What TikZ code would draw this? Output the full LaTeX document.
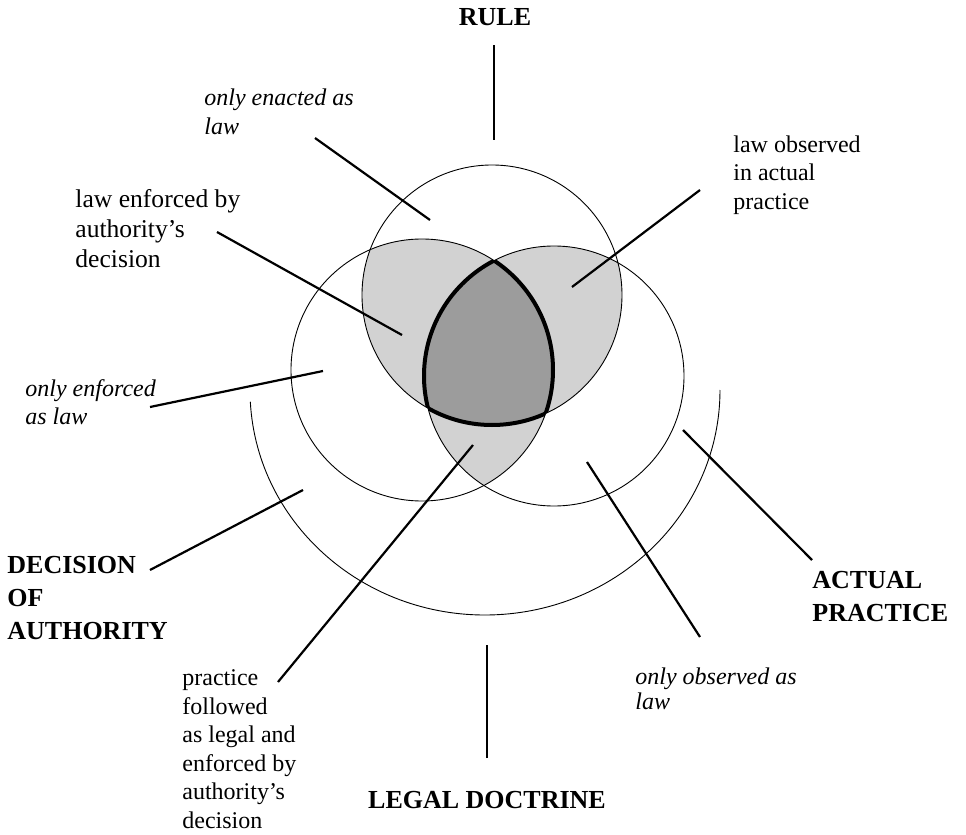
\documentclass[tikz,border=0pt]{standalone}
\usepackage{fontspec}
\setmainfont{Liberation Serif}
\usetikzlibrary{positioning}
\tikzset{
  lbl/.style={align=left, anchor=west, inner sep=0pt, font=\fontsize{12}{14.25}\selectfont},
  ital/.style={lbl, font=\fontsize{12}{14.25}\selectfont\itshape},
  head/.style={inner sep=0pt, font=\fontsize{13}{16.5}\selectfont\bfseries},
  leader/.style={line width=1.1pt},
  ring/.style={line width=0.45pt},
}

\begin{document}
\begin{tikzpicture}[x=0.5pt, y=-0.5pt]
  % --- Definitions ---
  \def\Rr{130} % radius of the rule circle
  \def\Rd{131} % radius of the decision circle
  \def\Rp{130} % radius of the practice circle
  \useasboundingbox (0,0) rectangle (966,835);

  % --- 1. Circle centres ---
  \coordinate (cR) at (492,295);  % Rule
  \coordinate (cD) at (422,370);  % Decision of authority
  \coordinate (cP) at (554,376);  % Actual practice
  \coordinate (cL) at (485,390);  % Legal doctrine (outer arc)

  % --- 2. Overlaps ---
  % two circles: light stipple
  \begin{scope}
    \clip (cR) circle (\Rr);
    \fill[gray!35] (cD) circle (\Rd);
    \fill[gray!35] (cP) circle (\Rp);
  \end{scope}
  \begin{scope}
    \clip (cD) circle (\Rd);
    \fill[gray!35] (cP) circle (\Rp);
  \end{scope}
  % all three: dark core with a heavier rim
  \begin{scope}
    \clip (cR) circle (\Rr);
    \clip (cD) circle (\Rd);
    \fill[gray!78] (cP) circle (\Rp);
    \draw[line width=2pt] (cP) circle (\Rp);
  \end{scope}
  \begin{scope}
    \clip (cR) circle (\Rr);
    \clip (cP) circle (\Rp);
    \draw[line width=2pt] (cD) circle (\Rd);
  \end{scope}
  \begin{scope}
    \clip (cD) circle (\Rd);
    \clip (cP) circle (\Rp);
    \draw[line width=2pt] (cR) circle (\Rr);
  \end{scope}

  % --- 3. Circles ---
  \draw[ring] (cR) circle (\Rr);
  \draw[ring] (cD) circle (\Rd);
  \draw[ring] (cP) circle (\Rp);
  \draw[ring] (cL) ++(177:235 and 225) arc[start angle=177, end angle=0, x radius=235, y radius=225];

  % --- 4. Headings ---
  \node[head] (rule) at (495,17) {RULE};
  \node[head, align=left, anchor=west] (decision) at (7,598) {DECISION\\OF\\AUTHORITY};
  \node[head, align=left, anchor=west] (practice) at (812,597) {ACTUAL\\PRACTICE};
  \node[head] (doctrine) at (487,800) {LEGAL DOCTRINE};

  % --- 5. Region labels ---
  \node[ital] (enacted) at (204,112) {only enacted as\\law};
  \node[lbl, font=\fontsize{12.8}{15}\selectfont] (enforcedby) at (75,229) {law enforced by\\authority's\\decision};
  \node[lbl] (observedin) at (733,175) {law observed\\in actual\\practice};
  \node[ital] (onlyenforced) at (25,402) {only enforced\\as law};
  \node[ital, font=\fontsize{12}{12.5}\selectfont\itshape] (onlyobserved) at (635,689) {only observed as\\law};
  \node[lbl] (followed) at (182,749) {practice\\followed\\as legal and\\enforced by\\authority's\\decision};

  % --- 6. Leader ends ---
  \coordinate (ruleA) at (494,45);   \coordinate (ruleB) at (494,140);
  \coordinate (enA) at (315,138);    \coordinate (enB) at (430,220);
  \coordinate (ebA) at (217,232);    \coordinate (ebB) at (402,335);
  \coordinate (oiA) at (700,190);    \coordinate (oiB) at (572,287);
  \coordinate (oeA) at (150,407);    \coordinate (oeB) at (323,371);
  \coordinate (daA) at (150,570);    \coordinate (daB) at (303,490);
  \coordinate (apA) at (812,560);    \coordinate (apB) at (683,430);
  \coordinate (ooA) at (700,637);    \coordinate (ooB) at (587,462);
  \coordinate (ldA) at (487,758);    \coordinate (ldB) at (487,645);
  \coordinate (pfA) at (278,682);    \coordinate (pfB) at (473,445);

  % --- 7. Leaders ---
  \draw[leader] (ruleA) -- (ruleB);
  \draw[leader] (enA) -- (enB);
  \draw[leader] (ebA) -- (ebB);
  \draw[leader] (oiA) -- (oiB);
  \draw[leader] (oeA) -- (oeB);
  \draw[leader] (daA) -- (daB);
  \draw[leader] (apA) -- (apB);
  \draw[leader] (ooA) -- (ooB);
  \draw[leader] (ldA) -- (ldB);
  \draw[leader] (pfA) -- (pfB);
\end{tikzpicture}
\end{document}
